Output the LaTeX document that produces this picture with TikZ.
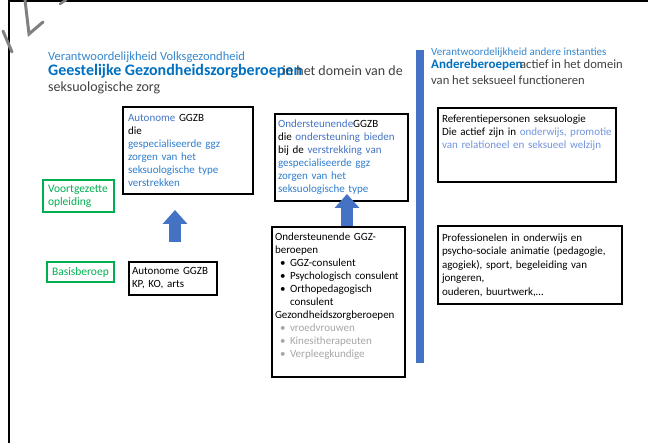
\documentclass[tikz,border=0pt]{standalone}
\usepackage{fontspec}
\setmainfont{Carlito}
\usetikzlibrary{arrows.meta}
\definecolor{volkblue}{RGB}{52,134,206}
\definecolor{titleblue}{RGB}{0,112,192}
\definecolor{accentblue}{RGB}{68,114,196}
\definecolor{specblue}{RGB}{46,125,205}
\definecolor{lightblue}{RGB}{114,147,222}
\definecolor{textgray}{RGB}{166,166,166}
\definecolor{darktext}{RGB}{64,64,64}
\definecolor{ggzgreen}{RGB}{0,176,80}
\definecolor{barblue}{RGB}{68,114,196}
\newcommand{\nohyph}{\hyphenpenalty=10000\relax}
\tikzstyle{ggzbox} = [rectangle, draw=black, line width=2pt, anchor=north west, align=left, inner xsep=3pt, inner ysep=4pt, font=\fontsize{11}{13}\selectfont\nohyph]
\tikzstyle{levelbox} = [rectangle, draw=ggzgreen, line width=2pt, anchor=north west, align=left, inner xsep=5pt, inner ysep=2pt, text=ggzgreen, font=\fontsize{11.5}{13}\selectfont]
\tikzstyle{hdrsmall} = [inner sep=0pt, anchor=base west, text=volkblue, font=\fontsize{12.5}{15}\selectfont]
\tikzstyle{hdrbold} = [inner sep=0pt, anchor=base west, text=titleblue, font=\fontsize{16}{18}\selectfont\bfseries]
\tikzstyle{hdrtext} = [inner sep=0pt, anchor=base west, text=darktext, font=\fontsize{14}{16}\selectfont]
\tikzstyle{blockarrow} = [line width=12.5pt, draw=barblue, -{Triangle[width=24pt,length=14pt]}]
\newcommand{\bul}[1]{\hspace*{5pt}\makebox[10pt][l]{\textbullet}#1}
\newcommand{\graybul}[1]{\textcolor{textgray}{\hspace*{5pt}\makebox[10pt][l]{\textbullet}#1}}

\begin{document}
\begin{tikzpicture}[x=1pt, y=-1pt]
\useasboundingbox (0,0) rectangle (648,443);
% frame and stray stroke
\draw [line width=2pt] (9,443) -- (9,1) -- (648,1);
\draw [gray, line width=3pt, line cap=round] (25,0) -- (29,34) -- (43,22);
\draw [gray, line width=3pt, line cap=round] (3,31) -- (12,52);
\draw [gray, line width=2.5pt, line cap=round] (60,4) -- (66,0);

% left heading
\node (volk) [hdrsmall] at (48,61) {Verantwoordelijkheid Volksgezondheid};
\node (geest) [hdrbold] at (48,76) {Geestelijke Gezondheidszorgberoepen};
\node (domein) [hdrtext, anchor=base east] at (403,76) {in het domein van de};
\node (zorg) [hdrtext] at (48,92) {seksuologische zorg};

% right heading
\node (andinst) [hdrsmall, font=\fontsize{11}{13}\selectfont] at (431,56) {Verantwoordelijkheid andere instanties};
\node (ander) [hdrbold, font=\fontsize{13}{15}\selectfont\bfseries] at (431,69) {Andereberoepen};
\node (actief) [hdrtext, anchor=base east, font=\fontsize{12.6}{15}\selectfont] at (623,69) {actief in het domein};
\node (functie) [hdrtext, font=\fontsize{12.6}{15}\selectfont] at (431,85) {van het seksueel functioneren};

% separator
\fill [barblue] (416,50) rectangle (424,363);

% levels
\node (voort) [levelbox, text width=61pt, minimum height=32pt] at (42,179) {Voortgezette\\opleiding};
\node (basis) [levelbox, text width=57pt, minimum height=20pt] at (46,261) {Basisberoep};

% autonome
\node (autA) [ggzbox, inner xsep=5pt, text width=120pt, minimum height=87pt] at (122,106) {\textcolor{accentblue}{Autonome} GGZB\\die\\\textcolor{specblue}{gespecialiseerde ggz}\\\textcolor{specblue}{zorgen van het}\\\textcolor{specblue}{seksuologische type}\\\textcolor{specblue}{verstrekken}};
\node (autB) [ggzbox, text width=82pt, minimum height=33pt] at (128,261) {Autonome GGZB\\KP, KO, arts};

% ondersteunende
\node (ondB) [ggzbox, text width=127pt, minimum height=87pt] at (274,113) {\textcolor{accentblue}{Ondersteunende}GGZB\\die \textcolor{accentblue}{ondersteuning bieden}\\bij de \textcolor{accentblue}{verstrekking van}\\\textcolor{specblue}{gespecialiseerde ggz}\\\textcolor{specblue}{zorgen van het}\\\textcolor{specblue}{seksuologische type}};
\node (ondC) [ggzbox, text width=127pt, minimum height=150pt] at (271,226) {Ondersteunende GGZ-\\beroepen\\\bul{GGZ-consulent}\\\bul{Psychologisch consulent}\\\bul{Orthopedagogisch}\\\hspace*{15pt}consulent\\Gezondheidszorgberoepen\\\graybul{vroedvrouwen}\\\graybul{Kinesitherapeuten}\\\graybul{Verpleegkundige}\\\mbox{}};

% andere
\node (refer) [ggzbox, inner xsep=4pt, text width=170pt, minimum height=74pt] at (437,107) {Referentiepersonen seksuologie\\Die actief zijn in \textcolor{lightblue}{onderwijs, promotie}\\\textcolor{lightblue}{van relationeel en seksueel welzijn}\\\mbox{}\\\mbox{}};
\node (prof) [ggzbox, font=\fontsize{11}{13.5}\selectfont\nohyph, inner xsep=4pt, text width=176pt, minimum height=78pt] at (437,225) {Professionelen in onderwijs en\\psycho-sociale  animatie (pedagogie,\\agogiek), sport, begeleiding van\\jongeren,\\ouderen, buurtwerk,\dots};

% arrows
\path (autB.north) ++(2,0) coordinate (arr1);
\draw [blockarrow, shorten <=19pt, shorten >=15pt] (arr1) -- (arr1 |- autA.south);
\path (ondC.north) ++(8.5,0) coordinate (arr2);
\draw [blockarrow, shorten >=-8pt] (arr2) -- (arr2 |- ondB.south);
\end{tikzpicture}
\end{document}
